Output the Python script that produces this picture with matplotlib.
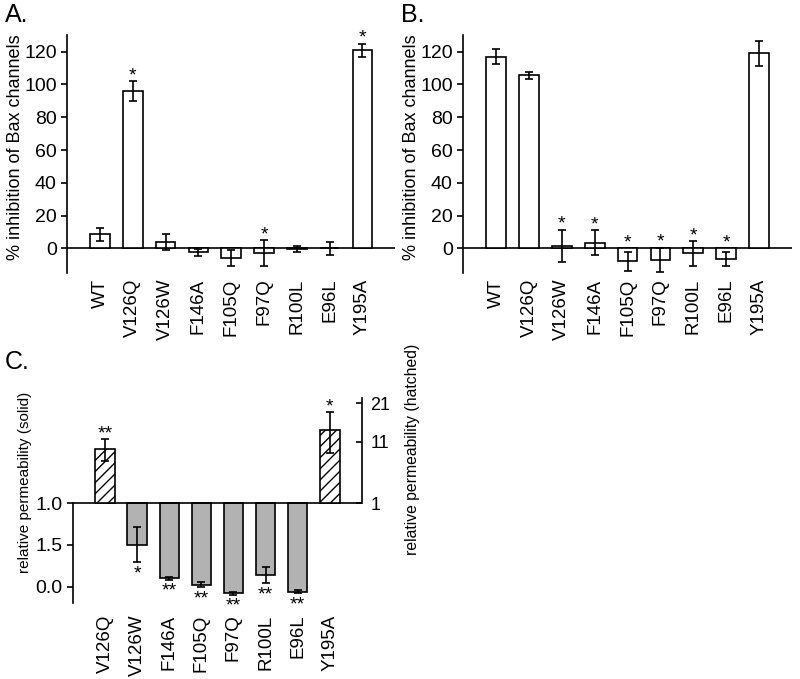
import matplotlib
matplotlib.use("Agg")
import matplotlib.pyplot as plt
import numpy as np

plt.rcParams['font.family'] = ['Liberation Sans', 'DejaVu Sans']

# panels A and B: % inhibition of Bax channels
mutants_ab = ['WT', 'V126Q', 'V126W', 'F146A', 'F105Q', 'F97Q', 'R100L', 'E96L', 'Y195A']
inhib_a = [8.5, 96, 4, -2.5, -6, -3, -0.5, 0, 121]
err_a = [4, 6, 5, 2, 5, 8, 2, 4, 4]
star_a = ['', '*', '', '', '', '*', '', '', '*']

inhib_b = [117, 105.5, 1.5, 3.5, -8, -7, -3, -6.5, 119]
err_b = [4.5, 2, 10, 7.5, 6, 7.5, 7.5, 4, 7.5]
star_b = ['', '', '*', '*', '*', '*', '*', '*', '']

# panel C: relative permeability
mutants_c = ['V126Q', 'V126W', 'F146A', 'F105Q', 'F97Q', 'R100L', 'E96L', 'Y195A']
solid_idx = [1, 2, 3, 4, 5, 6]
solid_val = [0.5, 0.1, 0.02, -0.08, 0.14, -0.06]
solid_err = [0.21, 0.02, 0.03, 0.02, 0.1, 0.02]
solid_star = ['*', '**', '**', '**', '**', '**']
hatch_idx = [0, 7]
hatch_val = [9.8, 14.0]
hatch_err = [2.0, 4.8]
hatch_star = ['**', '*']

STAR_FS = 14
fig = plt.figure(figsize=(8, 6.79), dpi=100)


def inhib_panel(rect, vals, errs, stars, letter):
    ax = fig.add_axes(rect)
    x = np.arange(len(vals))
    ax.bar(x, vals, width=0.6, color='white', edgecolor='black', linewidth=1.2, zorder=2)
    ax.errorbar(x, vals, yerr=errs, fmt='none', ecolor='black', elinewidth=1.2,
                capsize=3, capthick=1.2, zorder=3)
    for xi, v, e, s in zip(x, vals, errs, stars):
        if s:
            ax.annotate(s, (xi, max(v + e, 0)), xytext=(0, 0.5), textcoords='offset points',
                        ha='center', va='baseline', fontsize=STAR_FS)
    ax.axhline(0, color='black', lw=1.2, zorder=1)
    ax.set_xlim(-1, 9)
    ax.set_ylim(-15, 130)
    ax.set_yticks([0, 20, 40, 60, 80, 100, 120])
    ax.set_xticks(x)
    ax.set_xticklabels(mutants_ab, rotation=90, fontsize=13.5)
    ax.tick_params(axis='x', length=0, pad=4)
    ax.tick_params(axis='y', labelsize=14, width=1.2, length=4)
    for sp in ['top', 'right', 'bottom']:
        ax.spines[sp].set_visible(False)
    ax.spines['left'].set_linewidth(1.2)
    ax.set_ylabel('% inhibition of Bax channels', fontsize=13)
    ax.yaxis.set_label_coords(-0.131, 0.53)
    fig.text(rect[0] - 0.078, 0.995, letter, fontsize=18, va='top')
    return ax


inhib_panel([0.084, 0.598, 0.41, 0.35], inhib_a, err_a, star_a, 'A.')
inhib_panel([0.579, 0.598, 0.411, 0.35], inhib_b, err_b, star_b, 'B.')

# panel C
ax = fig.add_axes([0.091, 0.1115, 0.3615, 0.3025])
ax.set_xlim(-1, 8)
ax.set_ylim(-0.2, 2.26)
ax.bar(solid_idx, np.array(solid_val) - 1.0, bottom=1.0, width=0.6,
       color='#b2b2b2', edgecolor='black', linewidth=1.2, zorder=2)
ax.errorbar(solid_idx, solid_val, yerr=solid_err, fmt='none', ecolor='black',
            elinewidth=1.2, capsize=3, capthick=1.2, zorder=3)
for xi, v, e, s in zip(solid_idx, solid_val, solid_err, solid_star):
    ax.annotate(s, (xi, v - e), xytext=(0, -2), textcoords='offset points',
                ha='center', va='top', fontsize=STAR_FS)
ax.axhline(1.0, color='black', lw=1.2, zorder=4)
ax.set_yticks([1.0, 0.5, 0.0])
ax.set_yticklabels(['1.0', '1.5', '0.0'])
ax.set_xticks(np.arange(len(mutants_c)))
ax.set_xticklabels(mutants_c, rotation=90, fontsize=13.5)
ax.tick_params(axis='x', length=0, pad=8)
ax.tick_params(axis='y', labelsize=14, width=1.2, length=4)
for sp in ['top', 'right', 'bottom']:
    ax.spines[sp].set_visible(False)
ax.spines['left'].set_bounds(-0.2, 1.0)
ax.spines['left'].set_linewidth(1.2)
ax.set_ylabel('relative permeability (solid)', fontsize=11)
ax.yaxis.set_label_coords(-0.142, 0.59)

# right axis: uneven spacing between 1, 11 and 21
r_vals = np.array([-100.0, 1.0, 11.0, 21.0, 100.0])
r_pos = np.array([-101 * 6.16, 0.0, 61.6, 100.0, 100.0 + 79 * 3.84])


def fwd(v):
    return np.interp(v, r_vals, r_pos)


def inv(p):
    return np.interp(p, r_pos, r_vals)


ax2 = ax.twinx()
ax2.set_yscale('function', functions=(fwd, inv))
ax2.set_ylim(-15.2, 22.4)
ax2.bar(hatch_idx, np.array(hatch_val) - 1.0, bottom=1.0, width=0.6,
        color='white', edgecolor='black', hatch='///', linewidth=1.2, zorder=2)
ax2.errorbar(hatch_idx, hatch_val, yerr=hatch_err, fmt='none', ecolor='black',
             elinewidth=1.2, capsize=3, capthick=1.2, zorder=3)
for xi, v, e, s in zip(hatch_idx, hatch_val, hatch_err, hatch_star):
    ax2.annotate(s, (xi, v + e), xytext=(0, 0), textcoords='offset points',
                 ha='center', va='baseline', fontsize=STAR_FS)
ax2.set_yticks([1, 11, 21])
ax2.set_yticklabels(['1', '11', '21'])
ax2.yaxis.set_minor_locator(matplotlib.ticker.NullLocator())
ax2.tick_params(axis='y', labelsize=13, width=1.2, length=4, direction='in', pad=6)
for sp in ['top', 'left', 'bottom']:
    ax2.spines[sp].set_visible(False)
ax2.spines['right'].set_bounds(1, 22.4)
ax2.spines['right'].set_linewidth(1.2)
ax2.set_ylabel('relative permeability (hatched)', fontsize=11.3)
ax2.yaxis.set_label_coords(1.15, 0.75)
fig.text(0.006, 0.485, 'C.', fontsize=18, va='top')

fig.savefig('out.png', dpi=100)
